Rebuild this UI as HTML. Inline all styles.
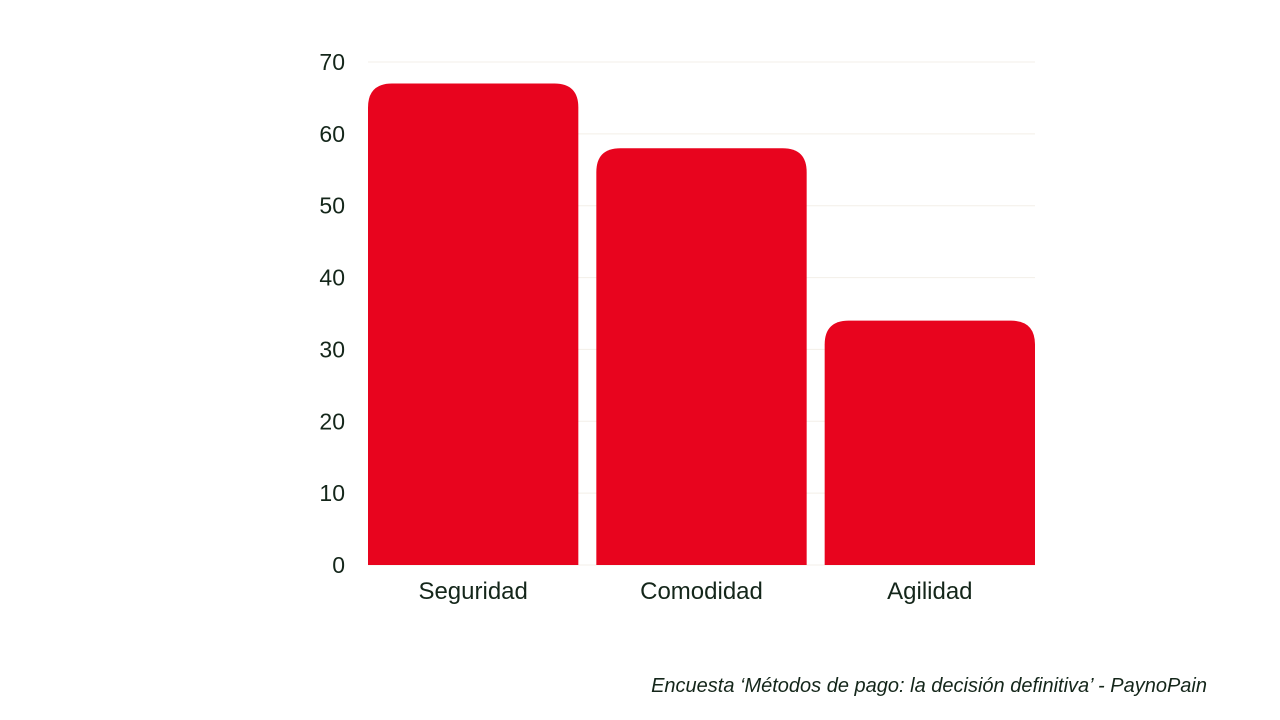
<!DOCTYPE html>
<html><head><meta charset="utf-8"><style>
html,body{margin:0;padding:0;background:#fff;width:1280px;height:720px;overflow:hidden}
svg{display:block}
text{font-family:"Liberation Sans",sans-serif;fill:#14261a}
</style></head><body>
<svg id="chart" width="1280" height="720"></svg>
<script>
const categories=["Seguridad","Comodidad","Agilidad"];
const values=[67,58,34];
const ticks=[0,10,20,30,40,50,60,70];
const NS="http://www.w3.org/2000/svg";
const svg=document.getElementById('chart');
const x0=368,x1=1035,yBase=565,yTop=62,maxV=70;
const y=v=>yBase-(yBase-yTop)*v/maxV;
const band=(x1-x0)/categories.length, gap=18, bw=band-gap*2/3;
const bx=i=>x0+i*(bw+gap);
function mk(t,a){const e=document.createElementNS(NS,t);for(const k in a)e.setAttribute(k,a[k]);svg.appendChild(e);return e;}
ticks.forEach(t=>{
  const l=mk('line',{x1:x0,x2:x1,y1:y(t),y2:y(t),stroke:'#f3efe8','stroke-width':1});
  
  
  const tx=mk('text',{x:345,y:y(t)+8,'text-anchor':'end','font-size':23});
  tx.textContent=t;
  
  
});
categories.forEach((c,i)=>{
  const X=bx(i),Y=y(values[i]),r=24;
  const p=mk('path',{d:`M${X},${yBase}V${Y+r}Q${X},${Y} ${X+r},${Y}H${X+bw-r}Q${X+bw},${Y} ${X+bw},${Y+r}V${yBase}Z`,fill:'#e8041e'});
  
  
  const t=mk('text',{x:X+bw/2,y:599,'text-anchor':'middle','font-size':24});
  t.textContent=c;
  
  
});
const cap=mk('text',{x:1207,y:692,'text-anchor':'end','font-size':20,'font-style':'italic'});
cap.textContent="Encuesta ‘Métodos de pago: la decisión definitiva’ - PaynoPain";


</script>
</body></html>
